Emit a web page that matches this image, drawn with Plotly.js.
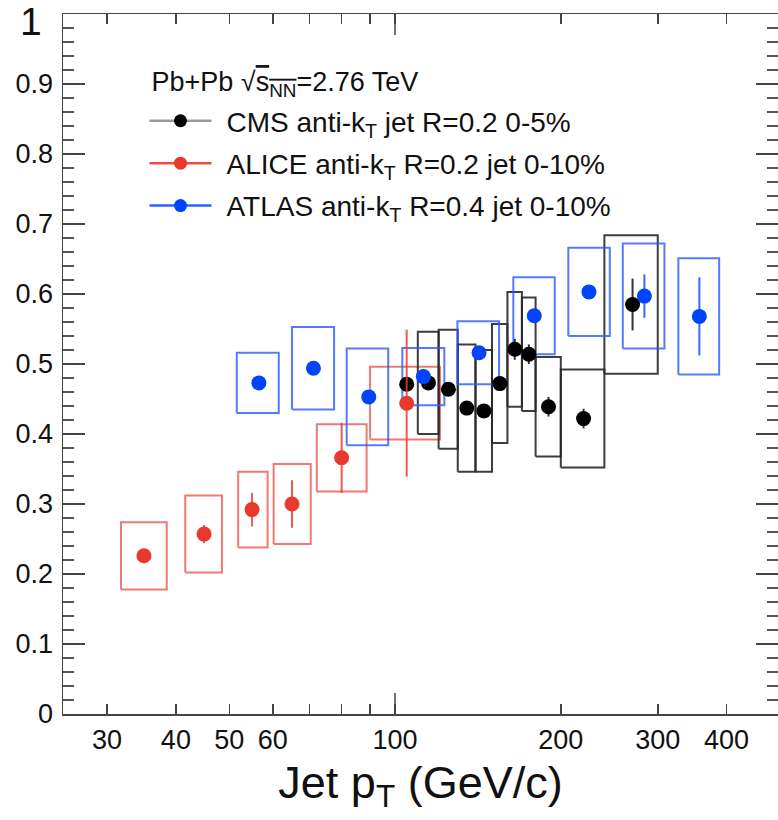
<!DOCTYPE html>
<html><head><meta charset="utf-8">
<script src="https://cdn.plot.ly/plotly-3.0.1.min.js"></script>
<style>body{margin:0;background:#fff}#chart{width:778px;height:820px}</style>
</head><body><div id="chart"></div>
<script>
// ---- CMS anti-kT R=0.2, 0-5% ----
const cmsPt    = [105, 115, 125, 135, 145, 155, 165, 175, 190, 220, 270];
const cmsRAA   = [0.471, 0.473, 0.464, 0.437, 0.433, 0.472, 0.521, 0.514, 0.439, 0.422, 0.585];
const cmsStat  = [0.008, 0.008, 0.008, 0.008, 0.008, 0.008, 0.015, 0.014, 0.014, 0.014, 0.037];
const cmsSys   = [null, 0.073, 0.085, 0.091, 0.087, 0.085, 0.082, 0.081, 0.071, 0.070, 0.099];
const cmsBoxLo = [null, 110, 120, 130, 140, 150, 160, 170, 180, 200, 240];
const cmsBoxHi = [null, 120, 130, 140, 150, 160, 170, 180, 200, 240, 300];

// ---- ALICE anti-kT R=0.2, 0-10% ----
const alicePt    = [35, 45, 55, 65, 80, 105];
const aliceRAA   = [0.226, 0.257, 0.292, 0.300, 0.366, 0.444];
const aliceStat  = [0.004, 0.013, 0.024, 0.034, 0.050, 0.105];
const aliceSys   = [0.048, 0.055, 0.054, 0.057, 0.048, 0.052];
const aliceBoxLo = [31.8, 41.6, 51.9, 60.2, 72.1, 90.1];
const aliceBoxHi = [38.5, 48.5, 58.7, 70.3, 88.8, 120.7];

// ---- ATLAS anti-kT R=0.4, 0-10% ----
const atlasPt    = [56.6, 71.1, 89.6, 112.6, 142.1, 179, 225, 283.7, 357];
const atlasRAA   = [0.473, 0.494, 0.453, 0.482, 0.516, 0.569, 0.603, 0.597, 0.568];
const atlasStat  = [0.005, 0.005, 0.006, 0.006, 0.006, 0.008, 0.008, 0.031, 0.056];
const atlasSys   = [0.043, 0.059, 0.069, 0.041, 0.045, 0.055, 0.063, 0.075, 0.083];
const atlasBoxLo = [51.6, 65.0, 81.7, 103.1, 129.8, 164.0, 206.4, 259.2, 327.0];
const atlasBoxHi = [61.5, 77.5, 97.2, 122.9, 154.5, 195.0, 245.5, 308.5, 387.8];

// ---- axis ticks ----
const xTickVals  = [30, 40, 50, 60, 100, 200, 300, 400];
const xTickText  = ['30', '40', '50', '60', '100', '200', '300', '400'];
const xMinorVals = [70, 80, 90];
const yTickVals  = [0, 0.1, 0.2, 0.3, 0.4, 0.5, 0.6, 0.7, 0.8, 0.9, 1];
const yTickText  = ['0', '0.1', '0.2', '0.3', '0.4', '0.5', '0.6', '0.7', '0.8', '0.9', ' '];

const FONT = 'Liberation Sans, Arial, Helvetica, sans-serif';
const CMS_C = '#000000', ALICE_C = '#e8392c', ATLAS_C = '#0044ff';

function boxes(lo, hi, y, h) {
  const xs = [], ys = [];
  for (let i = 0; i < y.length; i++) {
    if (lo[i] == null || h[i] == null) continue;
    xs.push(lo[i], hi[i], hi[i], lo[i], lo[i], null);
    ys.push(y[i] - h[i], y[i] - h[i], y[i] + h[i], y[i] + h[i], y[i] - h[i], null);
  }
  return {xs, ys};
}
function boxTrace(lo, hi, y, h, color) {
  const b = boxes(lo, hi, y, h);
  return {x: b.xs, y: b.ys, type: 'scatter', mode: 'lines', showlegend: false,
          hoverinfo: 'skip', line: {color: color, width: 2}, connectgaps: false};
}
function ptTrace(x, y, e, color, ecolor, name) {
  return {x: x, y: y, type: 'scatter', mode: 'markers', name: name, showlegend: false,
          marker: {color: color, size: 15},
          error_y: {type: 'data', array: e, visible: true, color: ecolor, thickness: 2, width: 0}};
}
function legTrace(name, mcolor, lcolor, grp) {
  return {x: [null], y: [null], type: 'scatter', mode: 'lines+markers', name: name, legendgroup: grp,
          marker: {color: mcolor, size: 13}, line: {color: lcolor, width: 2.5}};
}

const data = [
  boxTrace(aliceBoxLo, aliceBoxHi, aliceRAA, aliceSys, 'rgba(232,64,52,0.7)'),
  boxTrace(cmsBoxLo, cmsBoxHi, cmsRAA, cmsSys, 'rgba(40,40,40,0.9)'),
  boxTrace(atlasBoxLo, atlasBoxHi, atlasRAA, atlasSys, 'rgba(40,90,255,0.8)'),
  ptTrace(cmsPt, cmsRAA, cmsStat, CMS_C, '#333333', 'CMS'),
  ptTrace(alicePt, aliceRAA, aliceStat, ALICE_C, 'rgba(232,64,52,0.85)', 'ALICE'),
  ptTrace(atlasPt, atlasRAA, atlasStat, ATLAS_C, 'rgba(20,80,255,0.85)', 'ATLAS'),
  legTrace('CMS anti-k<sub>T</sub> jet R=0.2 0-5%', CMS_C, '#999999', 'g1'),
  legTrace('ALICE anti-k<sub>T</sub> R=0.2 jet 0-10%', ALICE_C, '#ee4a3e', 'g2'),
  legTrace('ATLAS anti-k<sub>T</sub> R=0.4 jet 0-10%', ATLAS_C, '#2a62ff', 'g3')
];

const layout = {
  width: 778, height: 820,
  margin: {l: 63, r: 0, t: 14, b: 106},
  paper_bgcolor: '#fff', plot_bgcolor: '#fff',
  font: {family: FONT, size: 27, color: '#111'},
  showlegend: true,
  legend: {
    x: 0.114, y: 0.9329, xanchor: 'left', yanchor: 'top',
    bgcolor: 'rgba(0,0,0,0)', borderwidth: 0,
    font: {family: FONT, size: 28, color: '#111'},
    title: {text: 'Pb+Pb √<span style="text-decoration:overline">s<sub>NN</sub></span>=2.76 TeV',
            font: {family: FONT, size: 27, color: '#111'}},
    itemwidth: 72, tracegroupgap: 3
  },
  xaxis: {
    type: 'log', range: [Math.log10(24.95), Math.log10(496)],
    showgrid: false, zeroline: false,
    showline: true, linecolor: '#444', linewidth: 1.5, mirror: 'ticks',
    ticks: 'inside', ticklen: 10, tickwidth: 1.5, tickcolor: '#444',
    tickmode: 'array', tickvals: xTickVals, ticktext: xTickText,
    tickfont: {family: FONT, size: 27, color: '#111'},
    ticklabelstandoff: 1,
    minor: {tickmode: 'array', tickvals: xMinorVals, ticks: 'inside', ticklen: 10, tickwidth: 1.5, tickcolor: '#444'},
    title: {text: 'Jet p<sub>T</sub> (GeV/c)', font: {family: FONT, size: 45, color: '#111'}, standoff: 12}
  },
  yaxis: {
    range: [0, 1], showgrid: false, zeroline: false,
    showline: true, linecolor: '#444', linewidth: 1.5, mirror: 'ticks',
    ticks: 'inside', ticklen: 22, tickwidth: 1.5, tickcolor: '#444',
    tickmode: 'array', tickvals: yTickVals, ticktext: yTickText,
    tickfont: {family: FONT, size: 27, color: '#111'},
    ticklabelstandoff: 3,
    minor: {dtick: 0.02, ticks: 'inside', ticklen: 11, tickwidth: 1.5, tickcolor: '#555'}
  },
  shapes: [
    {type: 'line', xref: 'x', yref: 'paper', x0: 100, x1: 100, y0: 0, y1: 0.03, line: {color: '#444', width: 1.5}},
    {type: 'line', xref: 'x', yref: 'paper', x0: 100, x1: 100, y0: 1, y1: 0.97, line: {color: '#444', width: 1.5}}
  ],
  annotations: [
    {text: '1', xref: 'paper', yref: 'paper', x: -0.027, y: 0.9886, xanchor: 'right', yanchor: 'middle',
     showarrow: false, font: {family: FONT, size: 39, color: '#111'}}
  ]
};

Plotly.newPlot('chart', data, layout, {displayModeBar: false, staticPlot: true}).then(function (gd) {
  // stretch legend key lines to the reference's longer ROOT-style keys
  gd.querySelectorAll('.legend .traces').forEach(function (g) {
    g.querySelectorAll('path.js-line').forEach(function (p) { p.setAttribute('d', 'M5,0h62'); });
    g.querySelectorAll('.legendpoints path.scatterpts').forEach(function (p) { p.setAttribute('transform', 'translate(36,0)'); });
  });
  // header sits a little higher and further right than the key rows
  gd.querySelectorAll('.legend .legendtitletext').forEach(function (t) { t.setAttribute('transform', 'translate(5,-5)'); });
});
</script>
</body></html>
